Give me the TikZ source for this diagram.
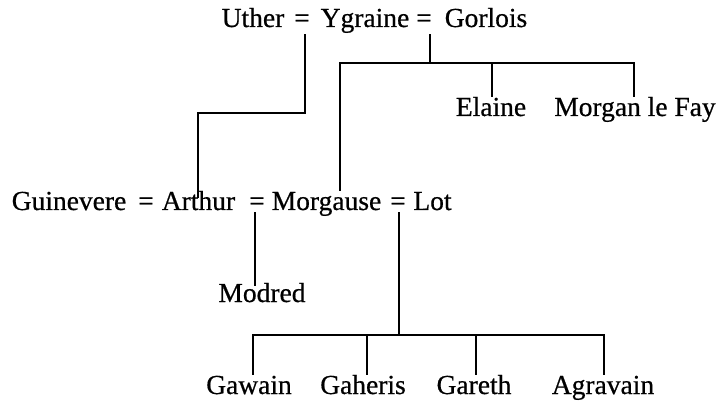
\documentclass[tikz,border=0pt]{standalone}
\usepackage{fontspec}
\setmainfont{Liberation Serif}
\newfontfamily\gfont[FakeBold=0.6]{Liberation Serif}
\begin{document}
\begin{tikzpicture}[x=1pt,y=-1pt,
  nm/.style={anchor=base, inner sep=0pt, outer sep=3pt, font=\gfont\fontsize{27.5}{31}\selectfont, text height=17pt, text depth=0pt},
  eqa/.style={nm, outer sep=0pt, text depth=8pt},
  eqb/.style={nm, outer sep=0pt, text depth=3pt},
  ln/.style={line width=1.2pt, line cap=rect}]
\useasboundingbox (0,0) rectangle (725,406);
% row 1
\node[nm]  (uther)   at (253,27) {Uther};
\node[eqa] (eq1)     at (302,27) {=};
\node[nm]  (ygraine) at (365,27) {Ygraine};
\node[eqa] (eq2)     at (424,27) {=};
\node[nm]  (gorlois) at (486,27) {Gorlois};
% daughters of Gorlois
\node[nm] (elaine) at (491,116) {Elaine};
\node[nm] (morgan) at (635,116) {Morgan le Fay};
% row 2
\node[nm]  (guinevere) at (69,210)  {Guinevere};
\node[eqb] (eq3)       at (146,210) {=};
\node[nm]  (arthur)    at (198.5,210) {Arthur};
\node[eqb] (eq4)       at (257,210) {=};
\node[nm]  (morgause)  at (326.5,210) {Morgause};
\node[eqb] (eq5)       at (398,210) {=};
\node[nm]  (lot)       at (432.5,210) {Lot};
% Modred
\node[nm] (modred) at (262,302) {Modred};
% children of Lot
\node[nm] (gawain)   at (249,394) {Gawain};
\node[nm] (gaheris)  at (363,394) {Gaheris};
\node[nm] (gareth)   at (474,394) {Gareth};
\node[nm] (agravain) at (603,394) {Agravain};
% helper coordinates
\coordinate (k1) at (305,113);
\coordinate (k2) at (198,113);
\coordinate (b1) at (430,63);
\coordinate (b1l) at (340,63);
\coordinate (b1m) at (492,63);
\coordinate (b1r) at (634,63);
\coordinate (b2) at (399,335);
\coordinate (c1) at (253,335);
\coordinate (c2) at (367,335);
\coordinate (c3) at (476,335);
\coordinate (c4) at (604,335);
% connectors
\draw[ln] ([xshift=3pt]eq1.south) -- (k1) -- (k2) -- ([yshift=-7pt]k2 |- arthur.north);
\draw[ln] ([xshift=6pt]eq2.south) -- (b1);
\draw[ln] (b1l |- morgause.north) -- (b1l) -- (b1r) -- (b1r |- morgan.north);
\draw[ln] (b1m) -- (b1m |- elaine.north);
\draw[ln] ([xshift=-2pt]eq4.south) -- ([xshift=-2pt,yshift=-3pt]eq4.south |- modred.north);
\draw[ln] ([xshift=1pt]eq5.south) -- (b2);
\draw[ln] (c1 |- gawain.north) -- (c1) -- (c4) -- (c4 |- agravain.north);
\draw[ln] (c2) -- (c2 |- gaheris.north);
\draw[ln] (c3) -- (c3 |- gareth.north);
\end{tikzpicture}
\end{document}
